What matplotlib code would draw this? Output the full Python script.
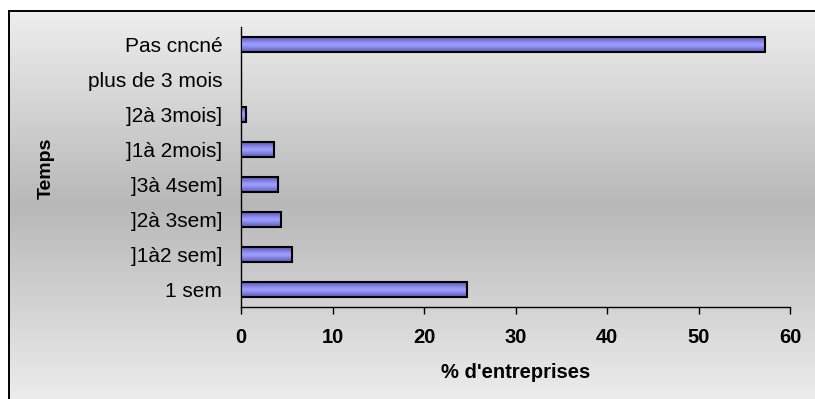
import numpy as np
import matplotlib
matplotlib.use("Agg")
import matplotlib.pyplot as plt
from matplotlib.colors import LinearSegmentedColormap

plt.rcParams['font.family'] = ['Liberation Sans', 'DejaVu Sans']

# categories from bottom to top, % of companies
categories = ['1 sem', ']1à2 sem]', ']2à 3sem]', ']3à 4sem]',
              ']1à 2mois]', ']2à 3mois]', 'plus de 3 mois', 'Pas cncné']
values = [24.7, 5.6, 4.4, 4.0, 3.6, 0.6, 0.0, 57.3]
xticks = [0, 10, 20, 30, 40, 50, 60]

W, H = 815, 399
fig = plt.figure(figsize=(W / 100, H / 100), dpi=100)
fig.patch.set_facecolor('white')

# grey chart area with a light-dark-light vertical gradient
bg_cmap = LinearSegmentedColormap.from_list(
    'bg', [(0, '#eeeeee'), (0.5, '#b8b8b8'), (1, '#ececec')])
bg = fig.add_axes([9 / W, 0, (W - 9) / W, (H - 11) / H], zorder=-1)
bg.imshow(np.linspace(0, 1, 256).reshape(-1, 1), cmap=bg_cmap,
          aspect='auto', extent=[0, 1, 0, 1], interpolation='bicubic')
bg.set_xticks([])
bg.set_yticks([])
for side in ['right', 'bottom']:
    bg.spines[side].set_visible(False)
for side in ['left', 'top']:
    bg.spines[side].set_linewidth(1.4)
    bg.spines[side].set_color('black')

ax = fig.add_axes([241 / W, (H - 307) / H, (790 - 241) / W, (307 - 27) / H])
ax.set_facecolor('none')

y = np.arange(len(categories))
bars = ax.barh(y, values, height=0.42, color='#9999ff',
               edgecolor='black', linewidth=1.5, zorder=3)

# shade each bar darker at the edges, lighter in the middle
bar_cmap = LinearSegmentedColormap.from_list(
    'bar', [(0, '#5a5ab4'), (0.45, '#9c9cff'), (0.55, '#9c9cff'), (1, '#5a5ab4')])
grad = np.linspace(0, 1, 64).reshape(-1, 1)
for b in bars:
    if b.get_width() <= 0:
        continue
    x0, y0 = b.get_x(), b.get_y()
    im = ax.imshow(grad, cmap=bar_cmap, aspect='auto', interpolation='bicubic',
                   extent=[x0, x0 + b.get_width(), y0, y0 + b.get_height()],
                   zorder=3)
    im.set_clip_path(b)
    b.set_facecolor('none')
    b.set_zorder(4)

ax.set_xlim(0, 60)
ax.set_ylim(-0.5, len(categories) - 0.5)
ax.set_xticks(xticks)
ax.set_xticklabels([str(t) for t in xticks], fontsize=14.5, fontweight='bold')
ax.set_yticks(y)
ax.set_yticklabels(categories, fontsize=15)
ax.tick_params(axis='y', length=0, pad=13.5)
ax.tick_params(axis='x', direction='out', length=5, width=1, pad=10)

for side in ['top', 'right']:
    ax.spines[side].set_visible(False)
for side in ['left', 'bottom']:
    ax.spines[side].set_linewidth(1)

ax.set_xlabel("% d'entreprises", fontsize=14.5, fontweight='bold', labelpad=12)
fig.text(46 / W, 1 - 168 / H, 'Temps', rotation=90, fontsize=14,
         fontweight='bold', ha='center', va='center')

fig.savefig('out.png', dpi=100)
